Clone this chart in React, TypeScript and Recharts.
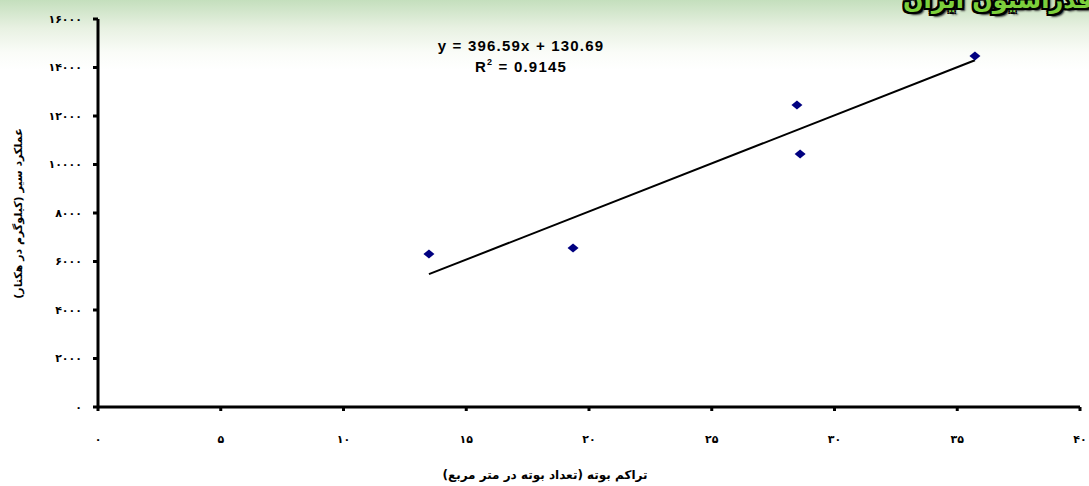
import React from 'react';
import { ScatterChart, Scatter, XAxis, YAxis } from 'recharts';

const densities = [13.48, 19.35, 28.47, 28.6, 35.72];
const yields = [6309, 6557, 12454, 10433, 14474];
const xTicks = [0, 5, 10, 15, 20, 25, 30, 35, 40];
const yTicks = [0, 2000, 4000, 6000, 8000, 10000, 12000, 14000, 16000];
const slope = 396.59;
const intercept = 130.69;
const trendX = [13.48, 35.72];

const points = densities.map((x, i) => ({ x, y: yields[i] }));
const trendData = trendX.map((x) => ({ x, y: slope * x + intercept }));

const fa = (v: number) => String(v).replace(/\d/g, (d) => '۰۱۲۳۴۵۶۷۸۹'[Number(d)]);

const Diamond = (props: any) => {
  const { cx, cy } = props;
  if (cx == null || cy == null) return <g />;
  return <path d={`M${cx - 5.5},${cy} L${cx},${cy - 4.5} L${cx + 5.5},${cy} L${cx},${cy + 4.5} Z`} fill="#000080" />;
};

const Nothing = () => <g />;

const tickFont = { fontFamily: 'DejaVu Sans', fontSize: 11, fontWeight: 700, fill: '#000' };

export default function App() {
  return (
    <div style={{ position: 'absolute', left: 0, top: 0, width: 1089, height: 486, overflow: 'hidden', background: '#fff' }}>
      <div style={{ position: 'absolute', left: 0, top: 0, width: 1089, height: 70, background: 'linear-gradient(#c4dfbd 0%, #e8f1e2 40%, #fafcf8 75%, #ffffff 100%)' }} />
      <div
        style={{
          position: 'absolute', left: 903, top: -14, whiteSpace: 'nowrap', fontFamily: 'DejaVu Sans', fontWeight: 700, fontSize: 24,
          color: '#7ccf3c', direction: 'rtl',
          textShadow: '2px 0 0 #000, -2px 0 0 #000, 0 2px 0 #000, 0 -2px 0 #000, 2px 2px 0 #000, -2px -2px 0 #000, 2px -2px 0 #000, -2px 2px 0 #000, 3px 3px 2px #333',
        }}
      >
        فدراسیون ایران
      </div>
      <div style={{ position: 'absolute', left: 0, top: 0 }}>
        <ScatterChart width={1089} height={486} margin={{ top: 19, right: 9, bottom: 29, left: 38 }}>
          <XAxis
            type="number"
            dataKey="x"
            domain={[0, 40]}
            ticks={xTicks}
            tickFormatter={fa}
            height={50}
            axisLine={{ stroke: '#000', strokeWidth: 3 }}
            tickLine={{ stroke: '#000', strokeWidth: 3 }}
            tickSize={4}
            tickMargin={24}
            tick={tickFont}
            interval={0}
            allowDataOverflow
          />
          <YAxis
            type="number"
            dataKey="y"
            domain={[0, 16000]}
            ticks={yTicks}
            tickFormatter={fa}
            width={60}
            axisLine={{ stroke: '#000', strokeWidth: 3 }}
            tickLine={{ stroke: '#000', strokeWidth: 3 }}
            tickSize={5}
            tickMargin={11}
            tick={tickFont}
            interval={0}
            allowDataOverflow
          />
          <Scatter data={trendData} line={{ stroke: '#000', strokeWidth: 2 }} shape={Nothing} isAnimationActive={false} legendType="none" />
          <Scatter data={points} shape={Diamond} isAnimationActive={false} />
        </ScatterChart>
      </div>
      <div style={{ position: 'absolute', left: 371, width: 300, top: 35, textAlign: 'center', fontFamily: 'Liberation Sans, Arial', fontWeight: 700, fontSize: 15, letterSpacing: 1.2, lineHeight: '21px', color: '#000' }}>
        <div>y = 396.59x + 130.69</div>
        <div>R<sup style={{ fontSize: 9, verticalAlign: 'top', lineHeight: '12px' }}>2</sup> = 0.9145</div>
      </div>
      <div style={{ position: 'absolute', left: 345, width: 400, top: 468, textAlign: 'center', direction: 'rtl', fontFamily: 'DejaVu Sans', fontWeight: 700, fontSize: 12, color: '#000' }}>
        تراکم بوته (تعداد بوته در متر مربع)
      </div>
      <div style={{ position: 'absolute', left: 18 - 150, width: 300, top: 207, textAlign: 'center', direction: 'rtl', transform: 'rotate(-90deg)', fontFamily: 'DejaVu Sans', fontWeight: 700, fontSize: 11, color: '#000' }}>
        عملکرد سیر (کیلوگرم در هکتار)
      </div>
    </div>
  );
}
